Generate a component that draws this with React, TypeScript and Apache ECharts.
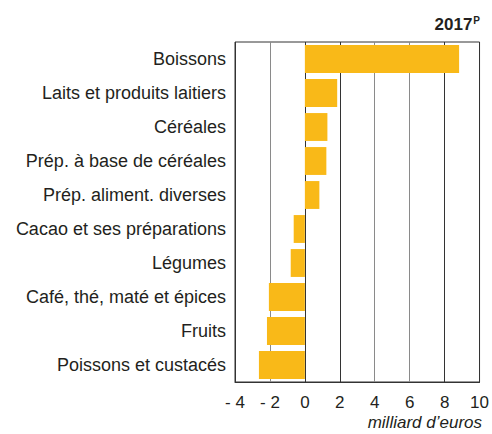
import React, { useEffect, useRef } from "react";
import * as echarts from "echarts";

const categories = [
  "Boissons",
  "Laits et produits laitiers",
  "Céréales",
  "Prép. à base de céréales",
  "Prép. aliment. diverses",
  "Cacao et ses préparations",
  "Légumes",
  "Café, thé, maté et épices",
  "Fruits",
  "Poissons et custacés",
];
const values = [8.83, 1.85, 1.29, 1.23, 0.83, -0.64, -0.81, -2.06, -2.17, -2.63];
const title = "2017";
const titleSup = "P";
const unitLabel = "milliard d\u2019euros";

const FONT = "Liberation Sans";

export default function App() {
  const ref = useRef<HTMLDivElement>(null);
  useEffect(() => {
    const chart = echarts.init(ref.current!, null, { renderer: "svg" });
    chart.setOption({
      animation: false,
      textStyle: { fontFamily: FONT },
      title: {
        text: "{b|" + title + "}{s|" + titleSup + "}",
        right: 7,
        top: 10,
        textStyle: {
          rich: {
            b: { fontSize: 17, fontWeight: "bold", color: "#231f20", fontFamily: FONT },
            s: { fontSize: 10, fontWeight: "bold", color: "#231f20", verticalAlign: "top", padding: [0, 0, 8, 1], fontFamily: FONT },
          },
        },
      },
      graphic: [
        {
          type: "text",
          right: 10,
          top: 414,
          style: {
            text: unitLabel,
            font: "italic 17px Liberation Sans",
            fill: "#231f20",
          },
        },
      ],
      grid: {
        left: 235,
        right: 10,
        top: 42,
        bottom: 52,
        show: true,
        borderColor: "#333",
        borderWidth: 1,
      },
      xAxis: {
        type: "value",
        min: -4,
        max: 10,
        interval: 2,
        axisLine: { show: true, lineStyle: { color: "#333" } },
        axisTick: { show: false },
        splitLine: {
          show: true,
          lineStyle: {
            color: ["#333", "#8a8a8a", "#333", "#333", "#8a8a8a", "#8a8a8a", "#333", "#333"],
            width: 1,
          },
        },
        axisLabel: {
          color: "#231f20",
          fontSize: 17,
          lineHeight: 17,
          fontFamily: FONT,
          margin: 12,
          formatter: (v: number) => (v < 0 ? "- " + Math.abs(v) : String(v)),
        },
      },
      yAxis: {
        type: "category",
        data: categories,
        inverse: true,
        axisLine: { show: false },
        axisTick: { show: false },
        splitLine: { show: false },
        axisLabel: { color: "#231f20", fontSize: 18, fontFamily: FONT, margin: 9 },
      },
      series: [
        {
          type: "bar",
          data: values,
          barWidth: "82%",
          itemStyle: { color: "#F9B918" },
        },
      ],
    });
    return () => chart.dispose();
  }, []);
  return (
    <div
      ref={ref}
      style={{ position: "fixed", left: 0, top: 0, width: 492, height: 434, background: "#fff" }}
    />
  );
}
